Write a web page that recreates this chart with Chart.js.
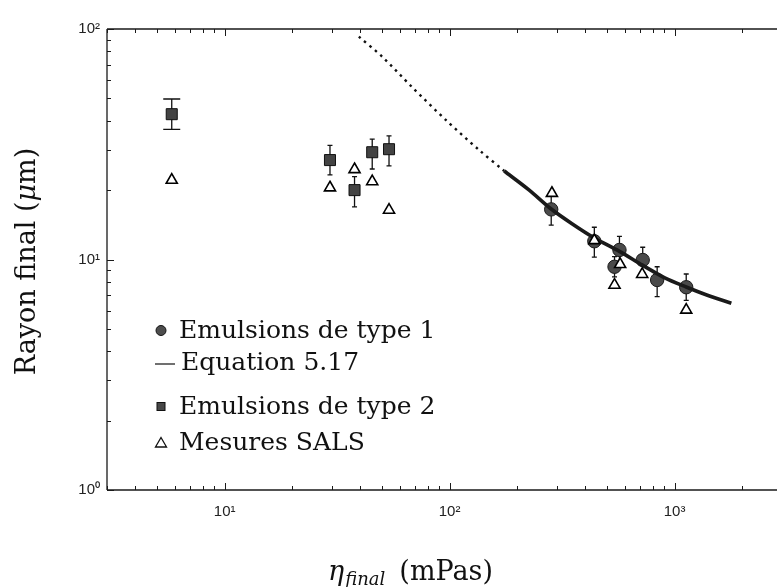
<!DOCTYPE html>
<html><head><meta charset="utf-8">
<script src="https://cdn.jsdelivr.net/npm/chart.js@4.4.0/dist/chart.umd.min.js"></script>
<style>html,body{margin:0;padding:0;background:#fff;overflow:hidden}#wrap{width:777px;height:587px;position:relative;overflow:hidden}canvas{display:block}</style>
</head><body><div id="wrap"><canvas id="c" width="777" height="587"></canvas></div>
<script>
// ---- data ----
const type1X  = [283, 440, 569, 541, 722, 837, 1127];
const type1Y  = [16.5, 12.0, 11.0, 9.3, 9.95, 8.15, 7.58];
const type1Lo = [14.1, 10.25, 9.6, 8.4, 8.8, 6.9, 6.65];
const type1Hi = [19.0, 13.8, 12.6, 10.3, 11.3, 9.3, 8.65];

const type2X  = [5.82, 29.4, 37.8, 45.3, 53.8];
const type2Y  = [42.7, 27.0, 20.0, 29.2, 30.1];
const type2Lo = [36.7, 23.3, 16.9, 24.7, 25.5];
const type2Hi = [49.7, 31.3, 22.9, 33.3, 34.4];

const salsX = [5.82, 29.4, 37.8, 45.3, 53.8, 285, 440, 541, 573, 718, 1127];
const salsY = [22.1, 20.5, 24.6, 21.8, 16.4, 19.4, 12.1, 7.75, 9.53, 8.63, 6.04];

const eqDotX = [39.5, 50.2, 68.1, 96.2, 135.3, 175];
const eqDotY = [92.6, 75.8, 56.0, 40.3, 29.85, 24.2];
const eqSolidX = [175, 226, 282, 350, 440, 569, 720, 900, 1127, 1400, 1789];
const eqSolidY = [24.2, 20.0, 16.6, 14.3, 12.4, 10.85, 9.45, 8.35, 7.6, 7.0, 6.46];

const legendLabels = ['Emulsions de type 1', 'Equation 5.17', 'Emulsions de type 2', 'Mesures SALS'];
const xTitle = ['η', 'final', '(mPas)'];
const yTitle = ['Rayon final (', 'μ', 'm)'];
const xMin = 3, xMax = 2860, yMin = 1, yMax = 100;

// ---- styles ----
const type2Caps = [17, 5, 5, 5, 5];
const pts = (xs, ys) => xs.map((x, i) => ({x, y: ys[i]}));
const sup = {'0':'⁰','1':'¹','2':'²','3':'³','4':'⁴'};
function decadeLabel(v){ const l = Math.log10(v), r = Math.round(l); return Math.abs(l - r) < 1e-6 ? '10' + sup[String(r)] : ''; }

const errorBars = {
  id: 'errorBars',
  beforeDatasetsDraw(chart){
    const ctx = chart.ctx, xs = chart.scales.x, ys = chart.scales.y;
    chart.data.datasets.forEach(ds => {
      if (!ds.errLo) return;
      ctx.save(); ctx.strokeStyle = '#111'; ctx.lineWidth = 1.3;
      ds.data.forEach((p, j) => {
        const px = xs.getPixelForValue(p.x);
        const y1 = ys.getPixelForValue(ds.errLo[j]), y2 = ys.getPixelForValue(ds.errHi[j]);
        const cw = (ds.errCap ? ds.errCap[j] : ds.errCapDefault) / 2;
        ctx.beginPath();
        ctx.moveTo(px, y1); ctx.lineTo(px, y2);
        ctx.moveTo(px - cw, y1); ctx.lineTo(px + cw, y1);
        ctx.moveTo(px - cw, y2); ctx.lineTo(px + cw, y2);
        ctx.stroke();
      });
      ctx.restore();
    });
  }
};

function logTickValues(min, max){
  const out = [];
  for (let d = Math.floor(Math.log10(min)); d <= Math.ceil(Math.log10(max)); d++)
    for (let m = 1; m <= 9; m++){ const v = m * Math.pow(10, d); if (v >= min * 0.9999 && v <= max * 1.0001) out.push({v, major: m === 1}); }
  return out;
}

const frame = {
  id: 'frame',
  afterDatasetsDraw(chart){
    const ctx = chart.ctx, a = chart.chartArea, xs = chart.scales.x, ys = chart.scales.y;
    ctx.save(); ctx.strokeStyle = '#1a1a1a'; ctx.lineWidth = 1.3;
    ctx.beginPath();
    ctx.moveTo(a.left, a.top); ctx.lineTo(a.right + 2, a.top);
    ctx.moveTo(a.left, a.top); ctx.lineTo(a.left, a.bottom);
    ctx.moveTo(a.left, a.bottom); ctx.lineTo(a.right + 2, a.bottom);
    ctx.stroke();
    ctx.lineWidth = 1;
    ctx.beginPath();
    logTickValues(xMin, xMax).forEach(t => {
      const px = Math.round(xs.getPixelForValue(t.v)) + 0.5, L = t.major ? 7 : 4;
      ctx.moveTo(px, a.bottom); ctx.lineTo(px, a.bottom - L);
      ctx.moveTo(px, a.top); ctx.lineTo(px, a.top + L);
    });
    logTickValues(yMin, yMax).forEach(t => {
      const py = Math.round(ys.getPixelForValue(t.v)) + 0.5, L = t.major ? 7 : 4;
      ctx.moveTo(a.left, py); ctx.lineTo(a.left + L, py);
    });
    ctx.stroke();
    ctx.restore();
  }
};

const legendPlugin = {
  id: 'insideLegend',
  afterDraw(chart){
    const ctx = chart.ctx;
    const mx = 161, tx = 179;
    const rows = [
      {mark: 'circle', my: 330.5, base: 337.5},
      {mark: 'line', my: 364, base: 370},
      {mark: 'rect', my: 406.5, base: 413.5},
      {mark: 'triangle', my: 442.5, base: 449.5}
    ];
    ctx.save();
    rows.forEach((r, i) => {
      ctx.fillStyle = '#4d4d4d'; ctx.strokeStyle = '#111';
      if (r.mark === 'circle'){ ctx.lineWidth = 1; ctx.beginPath(); ctx.arc(mx, r.my, 5, 0, Math.PI*2); ctx.fill(); ctx.stroke(); }
      else if (r.mark === 'rect'){ ctx.lineWidth = 1; ctx.fillStyle = '#474747'; ctx.fillRect(mx - 4, r.my - 4, 8, 8); ctx.strokeRect(mx - 4, r.my - 4, 8, 8); }
      else if (r.mark === 'triangle'){ ctx.lineWidth = 1.3; ctx.fillStyle = '#fff'; ctx.beginPath(); ctx.moveTo(mx, r.my - 5); ctx.lineTo(mx + 5.5, r.my + 4.5); ctx.lineTo(mx - 5.5, r.my + 4.5); ctx.closePath(); ctx.fill(); ctx.stroke(); }
      else { ctx.lineWidth = 1.2; ctx.beginPath(); ctx.moveTo(155, r.my); ctx.lineTo(175, r.my); ctx.stroke(); }
      ctx.fillStyle = '#111';
      ctx.font = '25px "DejaVu Serif"'; ctx.textBaseline = 'alphabetic'; ctx.textAlign = 'left';
      ctx.fillText(legendLabels[i], r.mark === 'line' ? 181 : tx, r.base);
    });
    ctx.restore();
  }
};

const titles = {
  id: 'titles',
  afterDraw(chart){
    const ctx = chart.ctx;
    ctx.save(); ctx.fillStyle = '#111'; ctx.textBaseline = 'alphabetic'; ctx.textAlign = 'left';
    const big = '27px "DejaVu Serif"', it = 'italic 27px "DejaVu Serif"', sub = 'italic 18px "DejaVu Serif"';
    // x title
    ctx.font = it; const w0 = ctx.measureText(xTitle[0]).width;
    ctx.font = sub; const w1 = ctx.measureText(xTitle[1]).width;
    ctx.font = big; const w2 = ctx.measureText(xTitle[2]).width;
    const gap = 14, total = w0 + 1 + w1 + gap + w2;
    let x = 410.5 - total / 2;
    ctx.font = it; ctx.fillText(xTitle[0], x, 580); x += w0 + 1;
    ctx.font = sub; ctx.fillText(xTitle[1], x, 585); x += w1 + gap;
    ctx.font = big; ctx.fillText(xTitle[2], x, 580);
    // y title (rotated)
    ctx.font = big; const a0 = ctx.measureText(yTitle[0]).width;
    ctx.font = it; const a1 = ctx.measureText(yTitle[1]).width;
    ctx.font = big; const a2 = ctx.measureText(yTitle[2]).width;
    const tot = a0 + a1 + a2;
    ctx.translate(35, 261.5); ctx.rotate(-Math.PI / 2);
    let s = -tot / 2;
    ctx.font = big; ctx.fillText(yTitle[0], s, 0); s += a0;
    ctx.font = it; ctx.fillText(yTitle[1], s, 0); s += a1;
    ctx.font = big; ctx.fillText(yTitle[2], s, 0);
    ctx.restore();
  }
};

const tickFont = {family: '"Liberation Sans", Arial, sans-serif', size: 15};

function build(width){
  const cv = document.getElementById('c');
  cv.width = width; cv.height = 587; cv.style.width = width + 'px'; cv.style.height = '587px';
  return new Chart(cv, {
    type: 'scatter',
    data: {
      datasets: [
        {label: legendLabels[0], data: pts(type1X, type1Y), errLo: type1Lo, errHi: type1Hi, errCapDefault: 5,
         pointStyle: 'circle', pointRadius: 6.7, backgroundColor: '#4a4a4a', borderColor: '#1a1a1a', borderWidth: 1, order: 3},
        {label: 'dotted', type: 'line', data: pts(eqDotX, eqDotY), showLine: true, borderColor: '#111', borderWidth: 2.4,
         borderDash: [2.5, 4.5], pointRadius: 0, tension: 0.3, fill: false, order: 2},
        {label: legendLabels[1], type: 'line', data: pts(eqSolidX, eqSolidY), showLine: true, borderColor: '#1a1a1a', borderWidth: 3.6,
         pointRadius: 0, tension: 0.3, fill: false, order: 2},
        {label: legendLabels[2], data: pts(type2X, type2Y), errLo: type2Lo, errHi: type2Hi, errCap: type2Caps,
         pointStyle: 'rect', pointRadius: 7.8, backgroundColor: '#434343', borderColor: '#111', borderWidth: 1, order: 2},
        {label: legendLabels[3], data: pts(salsX, salsY), pointStyle: 'triangle', pointRadius: 6.4,
         backgroundColor: '#fff', borderColor: '#000', borderWidth: 1.6, order: 1}
      ]
    },
    options: {
      responsive: false, maintainAspectRatio: false, animation: false, events: [],
      layout: {padding: {top: 29, right: 0, left: 0, bottom: 0}},
      plugins: {legend: {display: false}, tooltip: {enabled: false}},
      scales: {
        x: {type: 'logarithmic', min: xMin, max: xMax,
            grid: {display: false, drawTicks: false}, border: {display: false},
            ticks: {autoSkip: false, maxRotation: 0, padding: 13, font: tickFont, color: '#222', callback: v => decadeLabel(v)},
            afterFit(s){ s.height = 97; s.paddingLeft = 0; s.paddingRight = 0; }},
        y: {type: 'logarithmic', min: yMin, max: yMax,
            grid: {display: false, drawTicks: false}, border: {display: false},
            ticks: {autoSkip: false, padding: 7, font: tickFont, color: '#222', callback: v => decadeLabel(v)},
            afterFit(s){ s.width = 107; s.paddingTop = 0; s.paddingBottom = 0; }}
      }
    },
    plugins: [errorBars, frame, legendPlugin, titles]
  });
}

let chart = build(777);
const gapRight = 777 - chart.chartArea.right;
if (gapRight > 0.5) { chart.destroy(); chart = build(Math.round(777 + gapRight)); }
</script>
</body></html>
